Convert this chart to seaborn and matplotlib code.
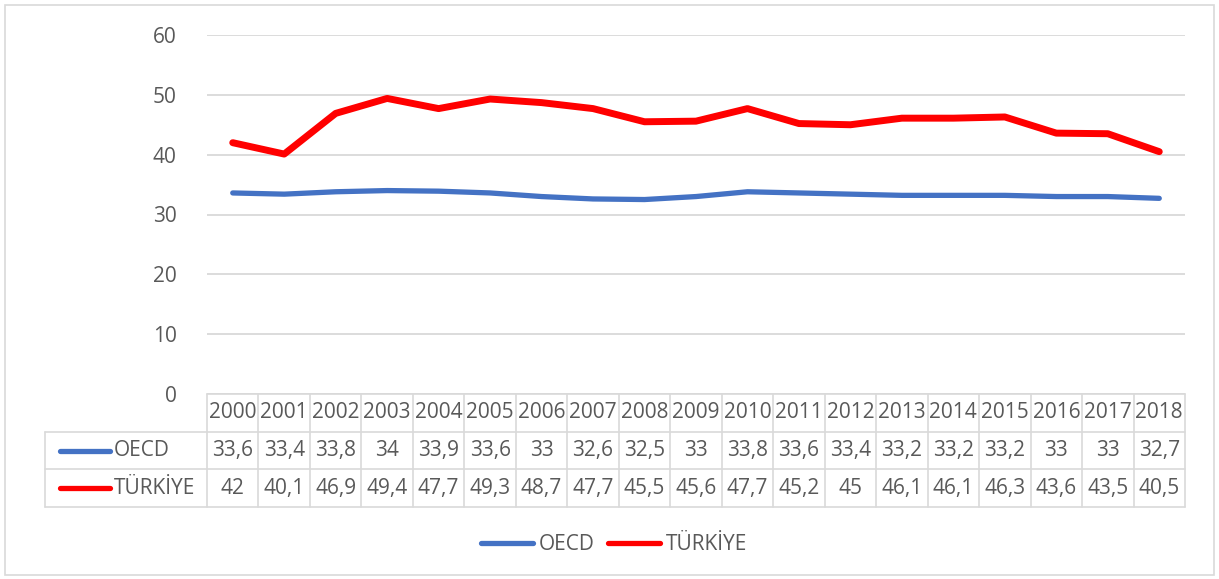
import pandas as pd
import matplotlib.pyplot as plt
import seaborn as sns
from matplotlib.lines import Line2D
from matplotlib.patches import Rectangle

# Data
years = [2000, 2001, 2002, 2003, 2004, 2005, 2006, 2007, 2008, 2009,
         2010, 2011, 2012, 2013, 2014, 2015, 2016, 2017, 2018]
oecd = [33.6, 33.4, 33.8, 34, 33.9, 33.6, 33, 32.6, 32.5, 33,
        33.8, 33.6, 33.4, 33.2, 33.2, 33.2, 33, 33, 32.7]
turkiye = [42, 40.1, 46.9, 49.4, 47.7, 49.3, 48.7, 47.7, 45.5, 45.6,
           47.7, 45.2, 45, 46.1, 46.1, 46.3, 43.6, 43.5, 40.5]
series_names = ["OECD", "TÜRKİYE"]
colors = {"OECD": "#4472C4", "TÜRKİYE": "#FF0000"}
widths = {"OECD": 3.8, "TÜRKİYE": 5.0}

df = pd.DataFrame({
    "pos": list(range(len(years))) * 2,
    "value": oecd + turkiye,
    "series": ["OECD"] * len(years) + ["TÜRKİYE"] * len(years),
})

sns.set_style("white")
plt.rcParams["font.family"] = ["Open Sans", "DejaVu Sans"]
txt_color = "#595959"
grid_color = "#D9D9D9"
fs = 15

W, H = 1219, 579
fig = plt.figure(figsize=(W / 100, H / 100), dpi=100)

# outer chart border
fig.patches.append(Rectangle((5 / W, 4 / H), 1 - 10 / W, 1 - 9 / H,
                             transform=fig.transFigure, fill=False,
                             edgecolor=grid_color, lw=1.2))

# plot area in pixels
x0, x1 = 207, 1185
y_top, y_zero = 35, 394
ax = fig.add_axes([x0 / W, (H - y_zero) / H, (x1 - x0) / W, (y_zero - y_top) / H])

for name in series_names:
    sns.lineplot(data=df[df["series"] == name], x="pos", y="value",
                 color=colors[name], lw=widths[name], ax=ax,
                 solid_capstyle="round", solid_joinstyle="round", legend=False)

ax.set_xlim(-0.5, len(years) - 0.5)
ax.set_ylim(0, 60)
ax.set_yticks(range(0, 61, 10))
ax.set_xticks([])
ax.set_xlabel("")
ax.set_ylabel("")
ax.yaxis.grid(True, color=grid_color, lw=1.3)
ax.set_axisbelow(True)
for s in ax.spines.values():
    s.set_visible(False)
ax.tick_params(axis="y", length=0, pad=22, labelsize=fs, labelcolor=txt_color)

# data table
unit = (x1 - x0) / len(years)
t_left, t_bottom = 45, 507
left_lim = -0.5 - (x0 - t_left) / unit
tax = fig.add_axes([t_left / W, (H - t_bottom) / H, (x1 - t_left) / W, (t_bottom - y_zero) / H])
tax.set_xlim(left_lim, len(years) - 0.5)
tax.set_ylim(3, 0)
tax.axis("off")


def px(p):
    return left_lim + (p - t_left) / unit


lkw = dict(color=grid_color, lw=1.2, clip_on=False)
tax.plot([-0.5, len(years) - 0.5], [0, 0], **lkw)
for r in (1, 2, 3):
    tax.plot([left_lim, len(years) - 0.5], [r, r], **lkw)
for k in range(len(years) + 1):
    tax.plot([-0.5 + k, -0.5 + k], [0, 3], **lkw)
tax.plot([left_lim, left_lim], [1, 3], **lkw)


def fmt(v):
    return f"{v:g}".replace(".", ",")


for i, y in enumerate(years):
    tax.text(i, 0.5, str(y), ha="center", va="center", fontsize=fs, color=txt_color)
    tax.text(i, 1.5, fmt(oecd[i]), ha="center", va="center", fontsize=fs, color=txt_color)
    tax.text(i, 2.5, fmt(turkiye[i]), ha="center", va="center", fontsize=fs, color=txt_color)

for r, name in zip((1.5, 2.5), series_names):
    tax.plot([px(60), px(110)], [r, r], color=colors[name], lw=3.8,
             solid_capstyle="round", clip_on=False)
    tax.text(px(114), r, name, ha="left", va="center", fontsize=fs, color=txt_color)

# legend
handles = [Line2D([0], [0], color=colors[n], lw=3.8, solid_capstyle="round") for n in series_names]
fig.legend(handles, series_names, loc="center", bbox_to_anchor=(614 / W, (H - 545) / H),
           ncol=2, frameon=False, fontsize=fs, labelcolor=txt_color,
           handlelength=2.5, handletextpad=0.3, columnspacing=0.6)

fig.savefig("out.png", dpi=100)
